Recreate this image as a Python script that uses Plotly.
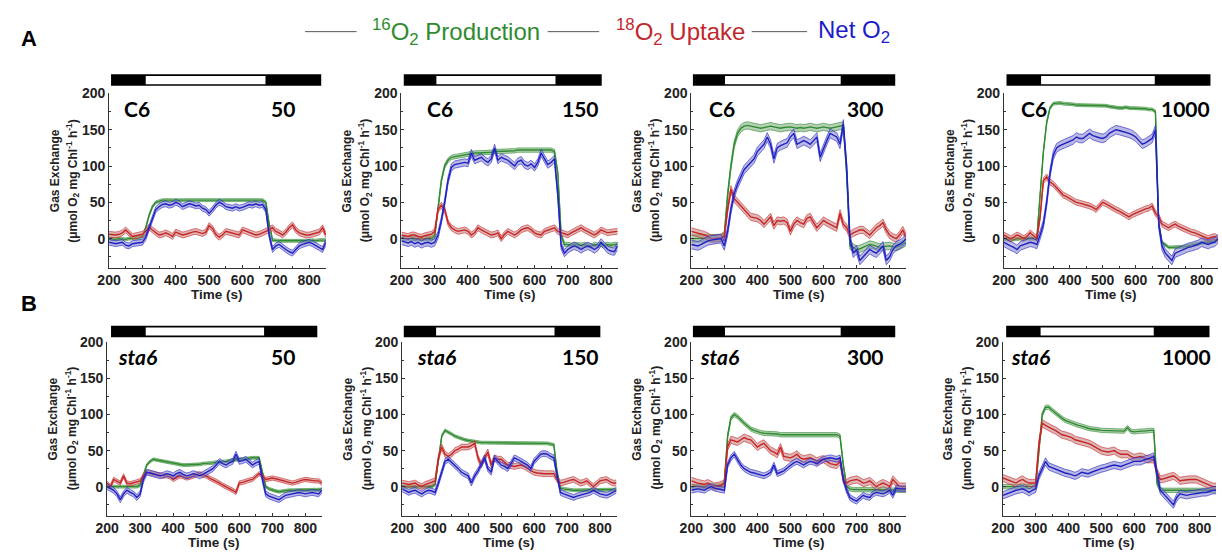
import plotly.graph_objects as go

# ---------------------------------------------------------------- data
TIME = list(range(200, 851, 10))  # s

strains = ["C6", "C6", "C6", "C6", "sta6", "sta6", "sta6", "sta6"]
light_intensity = [50, 150, 300, 1000, 50, 150, 300, 1000]

# light schedule drawn above each panel (s)
bar_start = [206, 207, 205, 208, 212, 205, 205, 210]
light_on = [310, 305, 302, 313, 317, 303, 302, 315]
light_off = [669, 663, 652, 658, 675, 662, 652, 660]
bar_end = [836, 802, 817, 827, 836, 801, 817, 830]

# ---- C6, 50
prod_c6_50 = [0, -1, -1, 0, -1, -1, 0, 0, 0, 1,
              3, 15, 32, 44, 50, 52, 53, 53, 53, 53,
              53, 53, 54, 53, 53, 54, 53, 53, 54, 54,
              53, 54, 54, 53, 54, 54, 53, 54, 54, 53,
              54, 53, 54, 54, 54, 53, 53, 50, 20, -2,
              -3, -3, -3, -3, -4, -3, -3, -3, -3, -3,
              -3, -2, -3, -2, -2, -2]
uptk_c6_50 = [6, 5, 5, 6, 8, 12, 8, 3, 4, 5,
              6, 10, 16, 12, 8, 5, 6, 8, 6, 3,
              9, 7, 5, 6, 8, 9, 10, 8, 7, 9,
              18, 14, 6, 2, 5, 10, 9, 8, 6, 5,
              12, 10, 8, 7, 5, 6, 8, 9, 12, 15,
              10, 8, 5, 9, 15, 19, 12, 8, 6, 5,
              5, 6, 8, 9, 15, 5]
net_c6_50 = [-5, -6, -7, -6, -5, -9, -10, -7, -6, -6,
             -5, 2, 15, 30, 40, 44, 47, 48, 46, 47,
             50, 48, 44, 46, 48, 47, 45, 46, 42, 40,
             35, 40, 46, 50, 48, 44, 43, 42, 44, 42,
             43, 45, 47, 46, 48, 46, 47, 40, 5, -15,
             -10, -8, -12, -15, -18, -20, -15, -10, -8, -7,
             -5, -7, -10, -12, -15, -5]

# ---- C6, 150
prod_c6_150 = [0, 0, 0, 0, 0, 0, -1, 0, 0, 0,
               3, 40, 80, 100, 108, 112, 113, 114, 115, 116,
               116, 117, 118, 118, 118, 119, 119, 119, 120, 120,
               120, 121, 121, 121, 121, 122, 122, 121, 122, 122,
               122, 122, 122, 122, 121, 122, 120, 90, 5, -8,
               -8, -9, -8, -9, -9, -8, -9, -10, -8, -9,
               -8, -9, -8, -9, -8, -8]
uptk_c6_150 = [5, 4, 3, 5, 5, 3, 2, 4, 5, 6,
               10, 40, 46, 40, 22, 15, 12, 10, 11, 12,
               10, 5, 8, 15, 12, 10, 8, 5, 6, 8,
               0, 6, 10, 8, 5, 8, 12, 14, 15, 12,
               8, 6, 5, 10, 12, 14, 15, 10, 8, 6,
               5, 8, 10, 13, 15, 12, 10, 7, 5, 8,
               12, 10, 8, 9, 10, 10]
net_c6_150 = [-3, -5, -6, -4, -7, -5, -8, -6, -5, -7,
              -5, 5, 25, 50, 80, 98, 102, 103, 104, 105,
              104, 118, 108, 110, 112, 108, 105, 110, 125, 108,
              112, 110, 108, 104, 100, 106, 108, 102, 100, 103,
              98, 105, 118, 110, 102, 105, 110, 60, -10, -20,
              -15, -12, -10, -12, -15, -12, -10, -12, -15, -12,
              -5, -10, -15, -17, -18, -10]

# ---- C6, 300
prod_c6_300 = [0, 0, 0, 0, 0, 0, 0, 0, 0, 1,
               5, 60, 100, 130, 145, 152, 155, 156, 155, 154,
               153, 152, 153, 154, 155, 154, 153, 152, 153, 154,
               154, 153, 152, 153, 152, 153, 154, 153, 152, 153,
               154, 153, 152, 153, 154, 155, 156, 90, -10, -12,
               -15, -14, -12, -10, -8, -9, -10, -12, -11, -10,
               -10, -11, -12, -10, -8, -5]
uptk_c6_300 = [10, 9, 8, 6, 5, 3, 0, 0, 0, 1,
               3, 40, 68, 55, 50, 45, 40, 35, 30, 29,
               28, 25, 20, 25, 30, 18, 25, 24, 25, 22,
               10, 20, 25, 22, 20, 28, 30, 22, 15, 20,
               25, 22, 20, 18, 15, 35, 20, 15, 5, 8,
               10, 12, 12, 8, 5, 10, 15, 18, 22, 12,
               5, 2, 0, 5, 12, 2]
net_c6_300 = [-8, -9, -10, -8, -5, -3, -2, -1, 0, 0,
              -10, 10, 40, 62, 75, 85, 95, 100, 105, 110,
              120, 125, 130, 140, 130, 110, 125, 128, 130, 132,
              140, 145, 130, 132, 135, 133, 130, 135, 140, 112,
              125, 135, 145, 142, 140, 130, 158, 100, 0, -20,
              -15, -30, -25, -20, -15, -18, -20, -15, -10, -30,
              -25, -15, -10, -8, -5, 0]

# ---- C6, 1000
prod_c6_1000 = [0, -1, -2, -1, 0, 0, 0, 0, 0, 0,
                0, 60, 120, 160, 180, 186, 187, 187, 186, 186,
                185, 185, 184, 184, 183, 183, 184, 184, 183, 184,
                184, 183, 182, 181, 181, 180, 180, 181, 180, 180,
                180, 179, 180, 179, 178, 178, 175, 20, -5, -8,
                -12, -12, -12, -12, -12, -11, -10, -9, -8, -7,
                -5, -5, -5, -4, -3, -2]
uptk_c6_1000 = [5, 3, 0, 2, 5, 3, 0, 3, 8, 4,
                0, 30, 80, 85, 78, 75, 70, 66, 60, 58,
                55, 52, 50, 49, 48, 47, 45, 43, 40, 45,
                50, 48, 45, 42, 40, 38, 35, 32, 30, 33,
                35, 38, 40, 41, 42, 45, 35, 30, 20, 17,
                15, 18, 20, 17, 15, 12, 10, 9, 8, 6,
                5, 3, 0, 2, 3, 0]
net_c6_1000 = [-5, -8, -10, -12, -15, -10, -8, -6, -5, -6,
               -8, 5, 20, 50, 90, 115, 125, 128, 130, 132,
               135, 136, 140, 138, 138, 142, 145, 142, 140, 139,
               138, 140, 145, 148, 150, 149, 148, 147, 145, 143,
               140, 135, 130, 132, 135, 138, 150, 20, -10, -20,
               -25, -30, -20, -18, -15, -13, -12, -11, -10, -8,
               -5, -6, -8, -6, -5, 0]

# ---- sta6, 50
prod_sta6_50 = [0, 0, 0, 0, 0, 0, 0, 0, 0, 0,
                2, 15, 30, 35, 38, 37, 36, 35, 34, 33,
                32, 31, 31, 30, 30, 30, 31, 31, 31, 32,
                32, 33, 33, 34, 34, 35, 35, 36, 37, 37,
                38, 38, 39, 39, 40, 40, 40, 20, 0, -3,
                -5, -6, -7, -6, -6, -5, -5, -5, -5, -5,
                -5, -5, -4, -4, -4, -4]
uptk_sta6_50 = [5, 0, 10, 8, 5, 15, 5, 4, 5, 6,
                8, 15, 20, 19, 18, 16, 15, 15, 15, 14,
                10, 13, 15, 14, 12, 13, 15, 16, 18, 16,
                15, 12, 10, 8, 5, 2, 0, -3, -5, -8,
                5, 6, 8, 9, 10, 14, 18, 15, 10, 11,
                12, 11, 10, 9, 8, 7, 5, 6, 8, 9,
                10, 9, 8, 8, 8, 5]
net_sta6_50 = [0, -2, -5, -10, -18, -10, -5, -8, -10, -15,
               -10, 10, 20, 19, 18, 16, 15, 16, 18, 17,
               15, 18, 20, 17, 15, 16, 18, 17, 15, 17,
               20, 22, 25, 30, 35, 32, 30, 33, 35, 45,
               35, 36, 38, 34, 30, 33, 35, 10, -10, -13,
               -15, -17, -18, -15, -12, -11, -10, -9, -8, -9,
               -10, -9, -8, -9, -10, -5]

# ---- sta6, 150
prod_sta6_150 = [0, 0, 0, 0, 0, 0, 0, 0, 0, 0,
                 3, 40, 70, 78, 76, 73, 70, 68, 66, 65,
                 64, 63, 62, 62, 61, 61, 61, 61, 60, 60,
                 60, 60, 60, 60, 60, 60, 60, 60, 60, 60,
                 60, 60, 60, 60, 60, 59, 58, 20, -2, -3,
                 -4, -4, -5, -5, -5, -5, -5, -5, -5, -5,
                 -5, -5, -4, -4, -4, -4]
uptk_sta6_150 = [5, 4, 3, 4, 5, 2, 0, 3, 5, 6,
                 8, 40, 55, 45, 42, 45, 50, 52, 55, 55,
                 55, 57, 60, 40, 30, 40, 48, 30, 40, 38,
                 38, 34, 30, 29, 28, 29, 30, 28, 25, 22,
                 20, 19, 18, 18, 18, 18, 18, 10, 5, 6,
                 8, 9, 10, 7, 5, 6, 8, 4, 0, 4,
                 8, 9, 10, 7, 5, 5]
net_sta6_150 = [-3, -5, -8, -6, -5, -8, -10, -7, -5, -6,
                -8, 5, 20, 35, 38, 34, 30, 25, 20, 17,
                15, 5, 15, 22, 30, 40, 25, 20, 40, 35,
                30, 28, 25, 32, 40, 38, 35, 32, 30, 25,
                35, 40, 45, 46, 45, 42, 40, 15, -8, -10,
                -12, -14, -15, -13, -12, -11, -10, -8, -5, -8,
                -10, -11, -12, -10, -8, -5]

# ---- sta6, 300
prod_sta6_300 = [0, 0, 0, 0, 0, 0, 0, 0, 0, 1,
                 5, 70, 95, 100, 97, 92, 88, 84, 80, 78,
                 76, 75, 74, 74, 73, 73, 73, 72, 72, 72,
                 72, 72, 72, 72, 72, 72, 72, 73, 72, 72,
                 72, 72, 72, 72, 72, 70, 30, 0, -3, -4,
                 -4, -4, -5, -5, -5, -5, -5, -5, -5, -5,
                 -5, -5, -5, -5, -5, -5]
uptk_sta6_300 = [8, 6, 5, 4, 3, 5, 3, 0, 1, 2,
                 5, 55, 65, 63, 62, 65, 68, 66, 65, 60,
                 55, 58, 60, 55, 50, 48, 45, 55, 42, 41,
                 40, 42, 45, 40, 38, 39, 40, 38, 35, 37,
                 38, 35, 32, 31, 30, 35, 10, 5, 8, 9,
                 10, 8, 5, 6, 8, 4, 0, 3, 5, 3,
                 0, 10, 5, 0, 0, 0]
net_sta6_300 = [-5, -4, -3, -4, -5, -2, 0, -2, -3, -4,
                -5, 30, 40, 45, 38, 30, 25, 22, 20, 19,
                18, 17, 15, 17, 20, 30, 18, 20, 22, 26,
                30, 33, 35, 32, 30, 33, 35, 34, 32, 35,
                38, 39, 40, 39, 38, 40, 10, -5, -15, -18,
                -20, -16, -12, -14, -15, -10, -8, -9, -10, -8,
                -5, -12, -2, -3, -3, -3]

# ---- sta6, 1000
prod_sta6_1000 = [0, 0, 0, 0, 0, 0, 0, 0, 0, 0,
                  0, 50, 100, 110, 110, 106, 102, 98, 95, 92,
                  90, 88, 86, 85, 84, 82, 81, 80, 80, 79,
                  78, 78, 77, 77, 77, 77, 77, 77, 82, 77,
                  76, 77, 77, 77, 78, 78, 78, 5, -5, -5,
                  -5, -5, -5, -5, -5, -5, -5, -5, -5, -5,
                  -5, -5, -5, -5, -5, -5]
uptk_sta6_1000 = [12, 10, 8, 6, 5, 8, 10, 7, 5, 5,
                  5, 60, 88, 85, 82, 80, 78, 75, 72, 71,
                  70, 68, 65, 64, 63, 62, 60, 58, 55, 52,
                  50, 49, 48, 49, 50, 47, 45, 45, 45, 42,
                  40, 41, 42, 40, 38, 38, 38, 20, 10, 11,
                  12, 14, 15, 12, 8, 9, 10, 10, 10, 10,
                  8, 6, 5, 2, 0, 0]
net_sta6_1000 = [-12, -10, -8, -6, -5, -4, -3, -5, -8, -5,
                 -3, 15, 25, 35, 28, 26, 25, 22, 20, 19,
                 18, 16, 15, 17, 20, 19, 18, 20, 22, 24,
                 25, 26, 28, 29, 30, 29, 28, 30, 32, 34,
                 35, 35, 35, 37, 38, 40, 42, 20, -5, -10,
                 -15, -20, -25, -15, -10, -11, -12, -11, -10, -9,
                 -8, -8, -8, -6, -5, -5]

production = [prod_c6_50, prod_c6_150, prod_c6_300, prod_c6_1000,
              prod_sta6_50, prod_sta6_150, prod_sta6_300, prod_sta6_1000]
uptake = [uptk_c6_50, uptk_c6_150, uptk_c6_300, uptk_c6_1000,
          uptk_sta6_50, uptk_sta6_150, uptk_sta6_300, uptk_sta6_1000]
net = [net_c6_50, net_c6_150, net_c6_300, net_c6_1000,
       net_sta6_50, net_sta6_150, net_sta6_300, net_sta6_1000]

# standard error half-widths of the shaded bands
se_production = [2, 3, 5, 2, 2, 2, 3, 3]
se_uptake = [4, 4, 5, 4, 3, 4, 5, 5]
se_net = [4, 5, 6, 6, 4, 4, 4, 5]

X_TICKS = [200, 300, 400, 500, 600, 700, 800]
Y_TICKS = [0, 50, 100, 150, 200]

# ---------------------------------------------------------------- layout
W, H = 1222, 552


def px(x):
    return x / W


def py(y):
    return 1 - y / H


# plot-area edges in pixels (left, right) per panel and (top, bottom) per row
panel_x = [(98, 317), (393.3, 611.7), (686, 903), (1001.7, 1218),
           (96, 313), (394, 610.5), (686, 903), (1000.7, 1216)]
row_y = [(86.7, 263.5), (339.3, 515)]
bar_y = [(67.3, 79), (322.3, 334)]
strain_x = [111, 416.7, 701.7, 1016.7, 105, 406.7, 693.3, 1007]
intensity_right = [288, 595, 883, 1212, 288, 595, 883, 1213]
label_y = [101.7, 354]

GREEN = "#2e8b2e"
RED = "#cc2424"
BLUE = "#2020c8"
FILLS = {GREEN: "rgba(120,170,120,0.55)",
         RED: "rgba(190,125,125,0.55)",
         BLUE: "rgba(130,130,200,0.55)"}

AXIS_COLOR = "#333333"
TICK_FONT = dict(family="Liberation Sans, Arial", size=14, color="#222222", weight="bold")

fig = go.Figure()
layout = dict(
    width=W, height=H,
    margin=dict(l=0, r=0, t=0, b=0),
    paper_bgcolor="white", plot_bgcolor="white",
    showlegend=False,
)

annotations = []
shapes = []

for i in range(8):
    sfx = "" if i == 0 else str(i + 1)
    row = 0 if i < 4 else 1
    x0, x1 = panel_x[i]
    yt, yb = row_y[row]
    xa, ya = "x" + sfx, "y" + sfx

    layout["xaxis" + sfx] = dict(
        domain=[px(x0), px(x1)], anchor=ya, range=[200, 850],
        tickvals=X_TICKS, showline=True, linecolor=AXIS_COLOR, linewidth=1,
        ticks="inside", ticklen=3, tickcolor=AXIS_COLOR,
        minor=dict(dtick=50, ticks="inside", ticklen=2, tickcolor=AXIS_COLOR),
        showgrid=False, zeroline=False, tickfont=TICK_FONT,
    )
    layout["yaxis" + sfx] = dict(
        domain=[py(yb), py(yt)], anchor=xa, range=[-40, 200],
        tickvals=Y_TICKS, showline=True, linecolor=AXIS_COLOR, linewidth=1,
        ticks="inside", ticklen=3, tickcolor=AXIS_COLOR,
        minor=dict(dtick=25, ticks="inside", ticklen=2, tickcolor=AXIS_COLOR),
        showgrid=False, zeroline=False, tickfont=TICK_FONT,
    )

    # series: band (upper edge, lower edge filled to it), then mean line
    for series, se, color in ((production[i], se_production[i], GREEN),
                              (uptake[i], se_uptake[i], RED),
                              (net[i], se_net[i], BLUE)):
        upper = [v + se for v in series]
        lower = [v - se for v in series]
        fig.add_trace(go.Scatter(x=TIME, y=upper, xaxis=xa, yaxis=ya, mode="lines",
                                 line=dict(color=color, width=0.6), hoverinfo="skip"))
        fig.add_trace(go.Scatter(x=TIME, y=lower, xaxis=xa, yaxis=ya, mode="lines",
                                 line=dict(color=color, width=0.6), fill="tonexty",
                                 fillcolor=FILLS[color], hoverinfo="skip"))
        fig.add_trace(go.Scatter(x=TIME, y=series, xaxis=xa, yaxis=ya, mode="lines",
                                 line=dict(color=color, width=1.4)))

    # light/dark bar above the panel
    b0, b1 = bar_y[row]
    shapes.append(dict(type="rect", xref=xa, yref="paper",
                       x0=bar_start[i], x1=bar_end[i], y0=py(b1), y1=py(b0),
                       fillcolor="black", line=dict(width=0), layer="above"))
    shapes.append(dict(type="rect", xref=xa, yref="paper",
                       x0=light_on[i], x1=light_off[i], y0=py(b1 - 1.6), y1=py(b0 + 1.8),
                       fillcolor="white", line=dict(width=0), layer="above"))

    # strain and light intensity labels
    is_sta6 = strains[i] == "sta6"
    annotations.append(dict(
        text=strains[i], xref="paper", yref="paper",
        x=px(strain_x[i]), y=py(label_y[row]), xanchor="left", yanchor="middle",
        showarrow=False,
        font=dict(family="Lato", size=21, color="black", weight="bold",
                  style="italic" if is_sta6 else "normal")))
    annotations.append(dict(
        text=str(light_intensity[i]), xref="paper", yref="paper",
        x=px(intensity_right[i]), y=py(label_y[row]), xanchor="right", yanchor="middle",
        showarrow=False, font=dict(family="Lato", size=21, color="black", weight="bold")))

    # axis titles
    ymid = (165, 417)[row]
    ymid2 = (175, 426)[row]
    annotations.append(dict(
        text="Gas Exchange", xref="paper", yref="paper",
        x=px(x0 - 55), y=py(ymid), textangle=-90, showarrow=False,
        xanchor="center", yanchor="middle",
        font=dict(family="Liberation Sans, Arial", size=12, color="#222222", weight="bold")))
    annotations.append(dict(
        text="(\u03bcmol O<sub>2</sub> mg Chl<sup>-1</sup> h<sup>-1</sup>)",
        xref="paper", yref="paper",
        x=px(x0 - 36), y=py(ymid2), textangle=-90, showarrow=False,
        xanchor="center", yanchor="middle",
        font=dict(family="Liberation Sans, Arial", size=12, color="#222222", weight="bold")))
    annotations.append(dict(
        text="Time (s)", xref="paper", yref="paper",
        x=px((x0 + x1) / 2), y=py(yb + 27), showarrow=False,
        xanchor="center", yanchor="middle",
        font=dict(family="Liberation Sans, Arial", size=13.5, color="#222222", weight="bold")))

# row letters
for letter, ly in (("A", 31), ("B", 300)):
    annotations.append(dict(
        text=letter, xref="paper", yref="paper", x=px(17), y=py(ly),
        showarrow=False, xanchor="center", yanchor="middle",
        font=dict(family="Liberation Sans, Arial", size=22, color="black", weight="bold")))

# key at the top
key_items = [
    ("<sup>16</sup>O<sub>2</sub> Production", GREEN, (296, 348), 362),
    ("<sup>18</sup>O<sub>2</sub> Uptake", "#c0282d", (541, 593), 608),
    ("Net O<sub>2</sub>", "#1c1cc8", (747, 803), 812),
]
for text, color, (lx0, lx1), tx in key_items:
    shapes.append(dict(type="line", xref="paper", yref="paper",
                       x0=px(lx0), x1=px(lx1), y0=py(24), y1=py(24),
                       line=dict(color="#555555", width=1)))
    annotations.append(dict(
        text=text, xref="paper", yref="paper", x=px(tx), y=py(24),
        xanchor="left", yanchor="middle", showarrow=False,
        font=dict(family="Liberation Sans, Arial", size=24, color=color)))

layout["annotations"] = annotations
layout["shapes"] = shapes
fig.update_layout(**layout)

fig.write_html("out.html")
